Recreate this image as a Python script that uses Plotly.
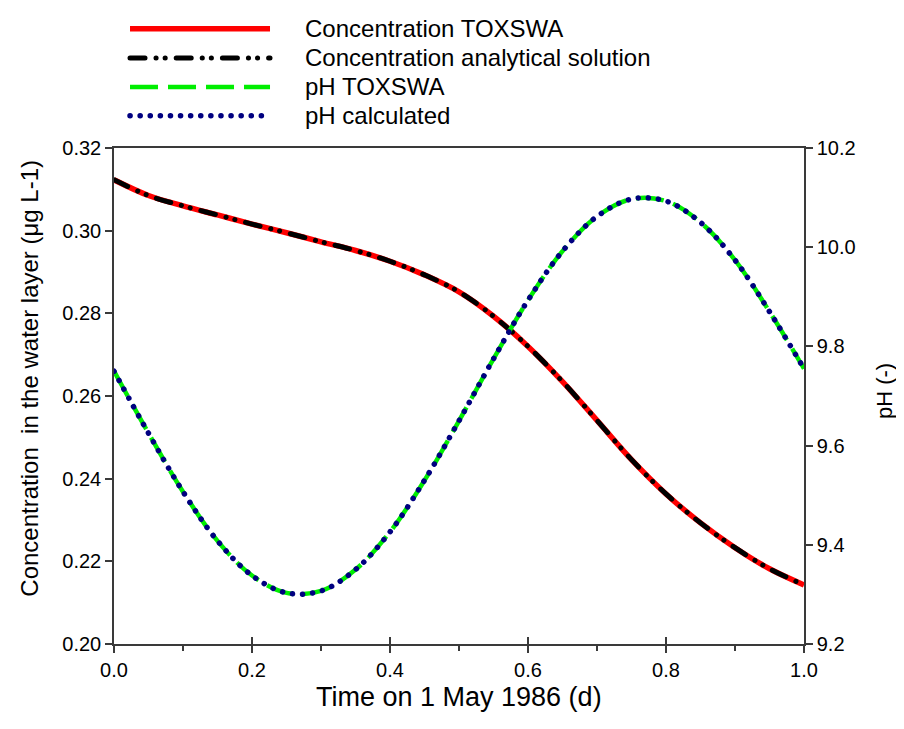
import plotly.graph_objects as go

# ---- data ----
time_d = [0.00, 0.05, 0.10, 0.15, 0.20, 0.25, 0.30, 0.35, 0.40, 0.45, 0.50,
          0.55, 0.60, 0.65, 0.70, 0.75, 0.80, 0.85, 0.90, 0.95, 1.00]
conc_toxswa = [0.3123, 0.3085, 0.3060, 0.3038, 0.3016, 0.2995, 0.2973, 0.2952,
               0.2926, 0.2893, 0.2852, 0.2793, 0.2720, 0.2635, 0.2541, 0.2446,
               0.2363, 0.2293, 0.2233, 0.2182, 0.2143]
conc_analytical = [0.3123, 0.3085, 0.3060, 0.3038, 0.3016, 0.2995, 0.2973, 0.2952,
                   0.2926, 0.2893, 0.2852, 0.2793, 0.2720, 0.2635, 0.2541, 0.2446,
                   0.2363, 0.2293, 0.2233, 0.2182, 0.2143]
ph_toxswa = [9.750, 9.625, 9.507, 9.408, 9.338, 9.303, 9.307, 9.350, 9.426, 9.530,
             9.650, 9.775, 9.893, 9.992, 10.062, 10.097, 10.093, 10.050, 9.974,
             9.870, 9.755]
ph_calculated = [9.750, 9.625, 9.507, 9.408, 9.338, 9.303, 9.307, 9.350, 9.426, 9.530,
                 9.650, 9.775, 9.893, 9.992, 10.062, 10.097, 10.093, 10.050, 9.974,
                 9.870, 9.755]

x_ticks = [0.0, 0.2, 0.4, 0.6, 0.8, 1.0]
y_ticks = [0.20, 0.22, 0.24, 0.26, 0.28, 0.30, 0.32]
y2_ticks = [9.2, 9.4, 9.6, 9.8, 10.0, 10.2]

series_names = ["Concentration TOXSWA", "Concentration analytical solution",
                "pH TOXSWA", "pH calculated"]
x_title = "Time on 1 May 1986 (d)"
y_title = "Concentration  in the water layer (μg L-1)"
y2_title = "pH (-)"

FONT = "Liberation Sans, Arial, sans-serif"
AX = "#3a3a3a"

styles = [
    dict(color="#ff0000", width=5.5, dash="solid"),
    dict(color="#000000", width=5, dash="20px,6px,4px,5px,4px,7px"),
    dict(color="#00ee00", width=4.5, dash="28px,10px"),
    dict(color="#000080", width=5.5, dash="4px,6px"),
]

fig = go.Figure()
fig.add_trace(go.Scatter(x=time_d, y=conc_toxswa, mode="lines", name=series_names[0],
                         line=dict(shape="spline", **styles[0])))
fig.add_trace(go.Scatter(x=time_d, y=conc_analytical, mode="lines", name=series_names[1],
                         line=dict(shape="spline", **styles[1])))
fig.add_trace(go.Scatter(x=time_d, y=ph_toxswa, mode="lines", name=series_names[2],
                         xaxis="x2", yaxis="y2", line=dict(shape="spline", **styles[2])))
fig.add_trace(go.Scatter(x=time_d, y=ph_calculated, mode="lines", name=series_names[3],
                         xaxis="x2", yaxis="y2", line=dict(shape="spline", **styles[3])))

# custom legend (long line samples like the reference)
leg_rows = [1.2405, 1.1815, 1.123, 1.065]
shapes = []
annotations = []
for name, st, yy in zip(series_names, styles, leg_rows):
    shapes.append(dict(type="line", xref="paper", yref="paper", x0=0.0232, x1=0.2261,
                       y0=yy, y1=yy, line=dict(color=st["color"], width=st["width"],
                                               dash=st["dash"])))
    annotations.append(dict(text=name, xref="paper", yref="paper", x=0.2739, y=yy,
                            xanchor="left", yanchor="middle", showarrow=False,
                            font=dict(family=FONT, size=24, color="#000")))

# axis titles placed as in the reference
annotations.append(dict(text=y_title, xref="paper", yref="paper", x=-0.1217, y=0.535,
                        textangle=-90, xanchor="center", yanchor="middle", showarrow=False,
                        font=dict(family=FONT, size=24, color="#000")))
annotations.append(dict(text=y2_title, xref="paper", yref="paper", x=1.116, y=0.51,
                        textangle=-90, xanchor="center", yanchor="middle", showarrow=False,
                        font=dict(family=FONT, size=22, color="#000")))
annotations.append(dict(text=x_title, xref="paper", yref="paper", x=0.5, y=-0.106,
                        xanchor="center", yanchor="middle", showarrow=False,
                        font=dict(family=FONT, size=27, color="#000")))

axis_common = dict(showgrid=False, zeroline=False, showline=True, linecolor=AX,
                   linewidth=1.5, ticks="outside", tickcolor=AX, tickwidth=1.5,
                   ticklen=7, automargin=False,
                   tickfont=dict(family=FONT, size=20, color="#000"))

fig.update_layout(
    width=904, height=729,
    margin=dict(l=106, r=108, t=140, b=93, autoexpand=False),
    paper_bgcolor="white", plot_bgcolor="white",
    showlegend=False,
    font=dict(family=FONT, color="#000"),
    shapes=shapes, annotations=annotations,
    xaxis=dict(range=[0, 1], tickvals=x_ticks, tickformat=".1f", mirror=True,
               minor=dict(dtick=0.1, ticks="outside", ticklen=5, tickcolor=AX, tickwidth=1.5),
               **axis_common),
    xaxis2=dict(range=[0, 1], overlaying="x", tickvals=x_ticks, showticklabels=False,
                showgrid=False, zeroline=False, showline=False, ticks="inside",
                ticklen=7, tickcolor=AX, tickwidth=1.5, automargin=False),
    yaxis=dict(range=[0.20, 0.32], tickvals=y_ticks, tickformat=".2f", **axis_common),
    yaxis2=dict(range=[9.2, 10.2], tickvals=y2_ticks, tickformat=".1f", overlaying="y",
                side="right", anchor="x2", **axis_common),
)

# round line caps for the dotted / dash-dot-dot styles (as in the reference)
post = """
(function(){
  var gd = document.getElementById('{plot_id}');
  function fix(){
    try {
      var tr = gd.querySelectorAll('.scatterlayer .trace path.js-line');
      var sh = gd.querySelectorAll('.layer-above .shapelayer path');
      var list = [[tr[1], '15px,11px,0.1px,9px,0.1px,11px'], [tr[3], '0.1px,10px'],
                  [sh[1], '15px,11px,0.1px,9px,0.1px,11px'], [sh[3], '0.1px,10px']];
      list.forEach(function(p){
        if (p[0]) { p[0].style.strokeLinecap = 'round'; p[0].style.strokeDasharray = p[1]; }
      });
    } catch(e) {}
  }
  fix(); setTimeout(fix, 50); setTimeout(fix, 300);
})();
"""

fig.write_html("out.html", post_script=post)
